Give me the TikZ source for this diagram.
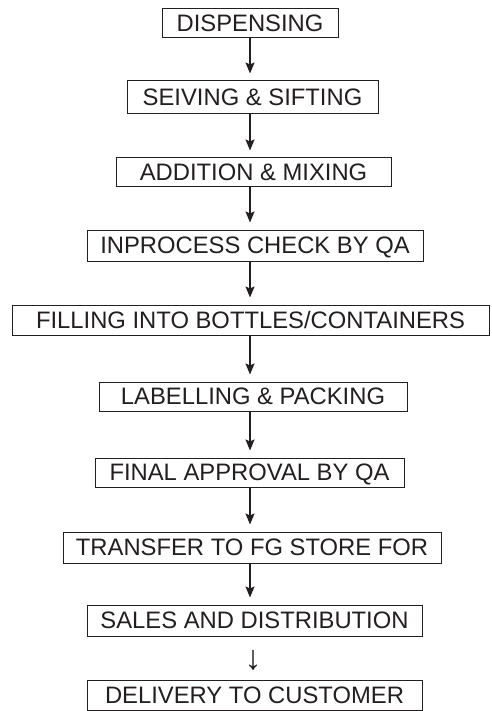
\documentclass[tikz,border=0pt]{standalone}
\usepackage{fontspec}
\setmainfont{Liberation Sans}
\usetikzlibrary{arrows.meta}
\definecolor{ink}{HTML}{231F20}
\begin{document}
\begin{tikzpicture}[x=1pt,y=-1pt,
  stepbox/.style={draw=ink, line width=1pt, inner sep=0pt, text height=16.8pt, text depth=0pt,
    font=\fontsize{23.8}{28}\selectfont, text=ink},
  arr/.style={-{Stealth[length=11pt,width=9pt,inset=2pt]}, line width=1.6pt, draw=ink, shorten >=7pt}]
\fill[white] (0,0) rectangle (491,711);
\useasboundingbox (0,0) rectangle (491,711);
\coordinate (axis) at (250,0);
\node[stepbox, minimum width=176pt, minimum height=29pt] (n1) at (250,23.5) {DISPENSING};
\node[stepbox, minimum width=251pt, minimum height=33pt] (n2) at (252.5,97.5) {SEIVING \& SIFTING};
\node[stepbox, minimum width=275pt, minimum height=29pt] (n3) at (253.5,172.5) {ADDITION \& MIXING};
\node[stepbox, minimum width=336pt, minimum height=31pt] (n4) at (255,245.5) {INPROCESS CHECK BY QA};
\node[stepbox, minimum width=477pt, minimum height=30pt] (n5) at (250.5,320) {FILLING INTO BOTTLES/CONTAINERS};
\node[stepbox, minimum width=308pt, minimum height=29pt] (n6) at (253,396.5) {LABELLING \& PACKING};
\node[stepbox, minimum width=309pt, minimum height=29pt] (n7) at (249.5,472.5) {FINAL APPROVAL BY QA};
\node[stepbox, minimum width=378pt, minimum height=31pt] (n8) at (252,547.5) {TRANSFER TO FG STORE FOR};
\node[stepbox, minimum width=335pt, minimum height=31pt] (n9) at (254.5,620.5) {SALES AND DISTRIBUTION};
\node[stepbox, minimum width=335pt, minimum height=30pt] (n10) at (254.5,695) {DELIVERY TO CUSTOMER};
\node[inner sep=0pt, font=\fontsize{34}{40}\selectfont, text=ink] (down) at (253,660) {↓};
\foreach \a/\b in {n1/n2,n2/n3,n3/n4,n4/n5,n5/n6,n6/n7,n7/n8,n8/n9}
  \draw[arr] (\a.south -| axis) -- (\b.north -| axis);
\end{tikzpicture}
\end{document}
